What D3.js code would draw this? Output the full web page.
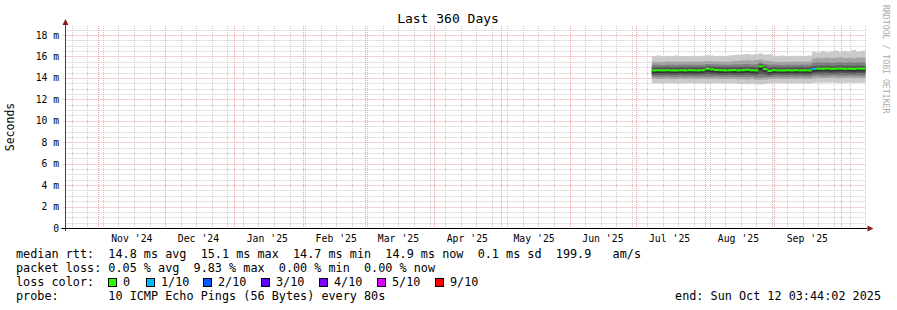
<!DOCTYPE html>
<html>
<head>
<meta charset="utf-8">
<script src="https://cdn.jsdelivr.net/npm/d3@7"></script>
<style>
  body { margin: 0; background: #fff; }
  svg { display: block; font-family: "DejaVu Sans Mono", monospace; }
  text { white-space: pre; }
</style>
</head>
<body>
<svg id="chart" width="897" height="310"></svg>
<script>
// 2-day bins starting Jul 8 2025 (UTC), values in ms
const firstBin = "2025-07-08";
const median = [14.70,14.71,14.70,14.72,14.70,14.69,14.71,14.70,14.72,14.71,14.70,14.72,
  14.86,14.80,14.74,14.72,14.70,14.71,14.73,14.70,14.72,14.76,14.71,14.70,
  15.08,14.82,14.64,14.72,14.70,14.69,14.71,14.70,14.72,14.70,14.71,14.70,
  14.84,14.86,14.85,14.88,14.84,14.86,14.87,14.85,14.86,14.84,14.87,14.86,14.88];
const loss = [0,0,0,0,0,0,0,0,0,0,0,0, 0,0,0,0,0,0,0,0,0,0,0,0, 0,0,0,0,0,0,0,0,0,0,0,0,
  1,0,0,0,0,0,0,0,0,0,0,0,0];

// sorted pings, p1 = lowest .. p10 = highest
const p1 = [13.52,13.50,13.48,13.53,13.50,13.47,13.51,13.49,13.52,13.50,13.48,13.51,
  13.46,13.49,13.52,13.50,13.48,13.50,13.47,13.45,13.44,13.42,13.46,13.40,
  13.38,13.43,13.47,13.50,13.52,13.49,13.51,13.50,13.48,13.52,13.50,13.49,
  13.55,13.57,13.54,13.56,13.58,13.55,13.53,13.56,13.57,13.54,13.56,13.55,13.57];
const p2 = [13.92,13.90,13.91,13.93,13.90,13.89,13.92,13.91,13.93,13.90,13.91,13.92,
  13.90,13.91,13.93,13.90,13.91,13.90,13.89,13.88,13.87,13.86,13.89,13.84,
  13.82,13.86,13.89,13.91,13.92,13.90,13.91,13.92,13.90,13.93,13.91,13.90,
  13.98,14.00,13.97,13.99,14.01,13.98,13.97,13.99,14.00,13.98,13.99,13.98,14.00];
const p3 = [14.12,14.10,14.11,14.13,14.11,14.10,14.12,14.11,14.13,14.11,14.10,14.12,
  14.12,14.11,14.13,14.10,14.11,14.12,14.10,14.09,14.08,14.08,14.10,14.05,
  14.04,14.07,14.09,14.11,14.12,14.10,14.11,14.12,14.11,14.13,14.11,14.10,
  14.20,14.22,14.19,14.21,14.22,14.20,14.19,14.21,14.22,14.20,14.21,14.20,14.22];
const p4 = [14.30,14.29,14.30,14.32,14.30,14.29,14.31,14.30,14.32,14.30,14.29,14.31,
  14.36,14.33,14.31,14.30,14.30,14.31,14.29,14.29,14.30,14.31,14.29,14.28,
  14.36,14.32,14.26,14.30,14.31,14.29,14.30,14.31,14.30,14.32,14.30,14.29,
  14.40,14.42,14.41,14.43,14.40,14.42,14.43,14.41,14.42,14.40,14.43,14.42,14.44];
const p5 = [14.47,14.46,14.47,14.49,14.47,14.46,14.48,14.47,14.49,14.47,14.46,14.48,
  14.58,14.52,14.49,14.47,14.46,14.48,14.46,14.47,14.48,14.50,14.47,14.46,
  14.70,14.55,14.42,14.47,14.48,14.46,14.47,14.48,14.47,14.49,14.47,14.46,
  14.58,14.60,14.59,14.61,14.58,14.60,14.61,14.59,14.60,14.58,14.61,14.60,14.62];
const p6 = [14.76,14.77,14.76,14.78,14.76,14.75,14.77,14.76,14.78,14.77,14.76,14.78,
  14.92,14.86,14.80,14.78,14.76,14.77,14.79,14.76,14.78,14.82,14.77,14.76,
  15.16,14.88,14.70,14.78,14.76,14.75,14.77,14.76,14.78,14.77,14.76,14.77,
  14.90,14.92,14.91,14.94,14.90,14.92,14.93,14.91,14.92,14.90,14.93,14.92,14.94];
const p7 = [15.00,15.01,15.00,15.02,15.00,14.99,15.01,15.00,15.02,15.01,15.00,15.02,
  15.10,15.06,15.03,15.02,15.00,15.01,15.03,15.01,15.02,15.05,15.01,15.00,
  15.30,15.08,14.98,15.02,15.00,14.99,15.01,15.00,15.02,15.01,15.00,15.01,
  15.12,15.14,15.13,15.15,15.12,15.14,15.15,15.13,15.14,15.12,15.15,15.14,15.16];
const p8 = [15.22,15.23,15.21,15.24,15.22,15.21,15.23,15.22,15.24,15.23,15.22,15.24,
  15.30,15.27,15.25,15.24,15.22,15.24,15.26,15.25,15.27,15.30,15.26,15.28,
  15.45,15.30,15.24,15.25,15.22,15.21,15.23,15.22,15.24,15.23,15.22,15.23,
  15.40,15.43,15.41,15.44,15.40,15.43,15.45,15.42,15.43,15.41,15.44,15.43,15.46];
const p9 = [15.50,15.52,15.49,15.53,15.50,15.51,15.52,15.50,15.53,15.51,15.50,15.53,
  15.58,15.55,15.53,15.52,15.50,15.54,15.57,15.58,15.62,15.65,15.60,15.66,
  15.72,15.62,15.58,15.54,15.50,15.49,15.52,15.50,15.53,15.51,15.50,15.52,
  15.82,15.88,15.84,15.90,15.85,15.89,15.92,15.86,15.88,15.84,15.91,15.89,15.93];
const p10 = [16.02,16.08,16.00,16.06,16.03,16.10,16.02,16.05,16.01,16.07,16.03,16.06,
  16.12,16.08,16.04,16.07,16.03,16.09,16.14,16.16,16.20,16.22,16.15,16.24,
  16.28,16.18,16.20,16.08,16.04,16.09,16.05,16.03,16.07,16.06,16.04,16.10,
  16.45,16.36,16.52,16.40,16.48,16.56,16.42,16.50,16.46,16.60,16.44,16.53,16.48];

const yTicks = [0, 2, 4, 6, 8, 10, 12, 14, 16, 18];
const lossLabels = ["0", "1/10", "2/10", "3/10", "4/10", "5/10", "9/10"];
const lossColors = ["#26ff00", "#00b8ff", "#0059ff", "#5e00ff", "#7e00ff", "#dd00ff", "#ff0000"];
const smokeColors = ["#cacaca", "#a4a4a4", "#7e7e7e", "#585858", "#323232"];
const endTime = new Date(Date.UTC(2025, 9, 12, 3, 44, 2));

const svg = d3.select("#chart");
const plotLeft = 65.5, plotRight = 865.5, plotTop = 26, plotBottom = 228;

const x = d3.scaleUtc()
    .domain([d3.utcDay.offset(endTime, -360), endTime])
    .range([plotLeft, plotRight]);
const y = d3.scaleLinear()
    .domain([0, (plotBottom - plotTop) / 10.72])
    .range([plotBottom, plotTop]);

svg.append("rect").attr("width", 897).attr("height", 310).attr("fill", "#fff");

// ---- grid
const grid = svg.append("g");
const t0 = d3.utcDay.offset(endTime, -360);
const weeks = d3.utcSunday.range(t0, endTime);
const months = d3.utcMonth.range(t0, endTime);
const px = v => Math.round(v) + 0.5;

grid.selectAll(".vminor").data(weeks).enter().append("line")
    .attr("x1", d => px(x(d))).attr("x2", d => px(x(d)))
    .attr("y1", plotTop).attr("y2", plotBottom)
    .attr("stroke", "#c8c8c8").attr("stroke-dasharray", "1,1");

const halfSteps = d3.range(1, 38).map(i => i * 0.5).filter(v => v % 2 !== 0);
grid.selectAll(".hminor").data(halfSteps).enter().append("line")
    .attr("x1", plotLeft).attr("x2", plotRight)
    .attr("y1", d => px(y(d))).attr("y2", d => px(y(d)))
    .attr("stroke", "#c8c8c8").attr("stroke-dasharray", "1,1");

grid.selectAll(".vmajor").data(months).enter().append("line")
    .attr("x1", d => px(x(d))).attr("x2", d => px(x(d)))
    .attr("y1", plotTop).attr("y2", plotBottom + 2)
    .attr("stroke", "#eda0a0").attr("stroke-dasharray", "1,1");

grid.selectAll(".hmajor").data(yTicks.slice(1)).enter().append("line")
    .attr("x1", plotLeft - 2).attr("x2", plotRight)
    .attr("y1", d => px(y(d))).attr("y2", d => px(y(d)))
    .attr("stroke", "#eda0a0").attr("stroke-dasharray", "1,1");

// ---- smoke
const rows = median.map((m, i) => ({
    t: d3.utcDay.offset(new Date(firstBin + "T00:00:00Z"), 2 * i),
    p: [p1[i], p2[i], p3[i], p4[i], p5[i], p6[i], p7[i], p8[i], p9[i], p10[i]],
    median: m,
    loss: loss[i]
}));
const last = rows[rows.length - 1];
const pts = rows.concat([{ t: endTime, p: last.p, median: last.median, loss: last.loss }]);

smokeColors.forEach((c, k) => {
    const area = d3.area()
        .curve(d3.curveStepAfter)
        .x(d => x(d.t))
        .y0(d => y(d.p[k]))
        .y1(d => y(d.p[9 - k]));
    svg.append("path").datum(pts).attr("d", area).attr("fill", c);
});

// ---- median line coloured by loss
const line = d3.line().curve(d3.curveStepAfter).x(d => x(d.t)).y(d => y(d.median));
for (let i = 0; i < rows.length; i++) {
    const seg = [pts[i], { t: pts[i + 1].t, median: pts[i].median }];
    svg.append("path").datum(seg).attr("d", line)
        .attr("fill", "none")
        .attr("stroke", lossColors[rows[i].loss])
        .attr("stroke-width", 2);
}

// ---- axes
svg.append("line").attr("x1", plotLeft).attr("x2", plotLeft).attr("y1", plotBottom + 3).attr("y2", plotTop - 4)
    .attr("stroke", "#444");
svg.append("line").attr("x1", plotLeft - 4).attr("x2", plotRight + 2).attr("y1", plotBottom + 0.5).attr("y2", plotBottom + 0.5)
    .attr("stroke", "#000");
svg.append("path").attr("d", `M${plotLeft - 3},${plotTop - 1}L${plotLeft + 3},${plotTop - 1}L${plotLeft},${plotTop - 7}Z`)
    .attr("fill", "#8b1a1a");
svg.append("path").attr("d", `M${plotRight + 2},${plotBottom - 2.5}L${plotRight + 2},${plotBottom + 3.5}L${plotRight + 8},${plotBottom + 0.5}Z`)
    .attr("fill", "#8b1a1a");

svg.selectAll(".ylab").data(yTicks).enter().append("text")
    .attr("x", 59).attr("y", d => y(d) + 3.5)
    .attr("text-anchor", "end")
    .attr("font-size", "9.7px")
    .attr("fill", "#000")
    .text(d => d === 0 ? "0" : d + " m");

svg.selectAll(".xlab").data(months.filter(m => d3.utcDay.offset(m, 15) < endTime && d3.utcDay.offset(m, 15) > t0))
    .enter().append("text")
    .attr("x", d => x(d3.utcDay.offset(d, 15)))
    .attr("y", 242)
    .attr("text-anchor", "middle")
    .attr("font-size", "9.8px")
    .text(d => d3.utcFormat("%b '%y")(d));

svg.append("text").attr("x", 448).attr("y", 23).attr("text-anchor", "middle")
    .attr("font-size", "13px").text("Last 360 Days");

svg.append("text").attr("transform", "translate(14,127) rotate(-90)")
    .attr("text-anchor", "middle").attr("font-size", "11.5px").text("Seconds");

svg.append("text").attr("transform", "translate(883,5) rotate(90)")
    .attr("font-size", "8.2px").attr("fill", "#aaa").text("RRDTOOL / TOBI OETIKER");

// ---- legend
const fs = "11.8px";
svg.append("text").attr("x", 16).attr("y", 258).attr("font-size", fs)
    .text("median rtt:  14.8 ms avg  15.1 ms max  14.7 ms min  14.9 ms now  0.1 ms sd  199.9   am/s");
svg.append("text").attr("x", 16).attr("y", 272).attr("font-size", fs)
    .text("packet loss: 0.05 % avg  9.83 % max  0.00 % min  0.00 % now");
svg.append("text").attr("x", 16).attr("y", 286).attr("font-size", fs).text("loss color:");
const boxX = [108, 146, 203, 261, 319, 377, 435];
const lg = svg.selectAll(".lossitem").data(lossLabels).enter().append("g");
lg.append("rect")
    .attr("x", (d, i) => boxX[i] + 0.5).attr("y", 278.5)
    .attr("width", 8).attr("height", 8)
    .attr("fill", (d, i) => lossColors[i]).attr("stroke", "#000");
lg.append("text")
    .attr("x", (d, i) => boxX[i] + 15).attr("y", 286).attr("font-size", fs)
    .text(d => d);
svg.append("text").attr("x", 16).attr("y", 300).attr("font-size", fs)
    .text("probe:       10 ICMP Echo Pings (56 Bytes) every 80s");
svg.append("text").attr("x", 881).attr("y", 300).attr("text-anchor", "end").attr("font-size", fs)
    .text("end: Sun Oct 12 03:44:02 2025");
</script>
</body>
</html>
